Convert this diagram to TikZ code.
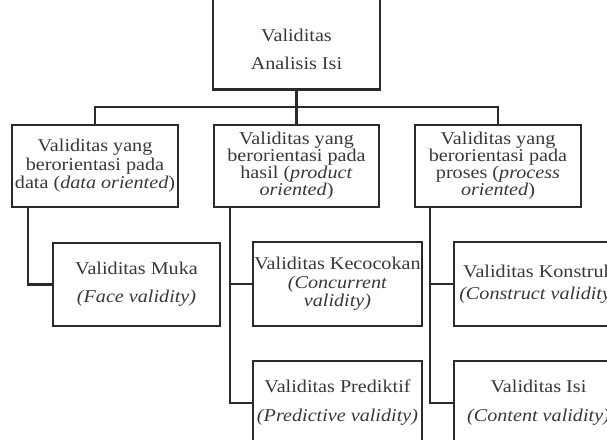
\documentclass[tikz,border=0pt]{standalone}
\usepackage{fontspec}
\setmainfont{Liberation Serif}[FakeStretch=1.12]
\definecolor{boxcol}{HTML}{2A2A2A}
\definecolor{txtcol}{HTML}{383838}
\begin{document}
\begin{tikzpicture}[x=1pt,y=-1pt,
  box/.style={draw=boxcol, line width=2.9pt, inner sep=0pt, align=center, text=txtcol,
    font=\fontsize{18}{18.5}\selectfont},
  txt/.style={inner sep=0pt, align=center, text=txtcol},
  conn/.style={draw=boxcol, line width=2.1pt}]
\useasboundingbox (0,0) rectangle (607,439);
% top
\node[box, minimum width=167pt, minimum height=92pt] (top) at (296.5,43.5) {};
\node[txt, font=\fontsize{18}{28}\selectfont] (toptxt) at (296.5,49) {Validitas\\Analisis Isi};
% level 2
\node[box, minimum width=166pt, minimum height=82pt] (data) at (95,166)
  {Validitas yang\\berorientasi pada\\data (\textit{data oriented})};
\node[box, minimum width=165pt, minimum height=82pt, font=\fontsize{18}{17}\selectfont] (hasil) at (296.5,166)
  {Validitas yang\\berorientasi pada\\hasil (\textit{product}\\\textit{oriented})};
\node[box, minimum width=166pt, minimum height=82pt, font=\fontsize{18}{17}\selectfont] (proses) at (498,166)
  {Validitas yang\\berorientasi pada\\proses (\textit{process}\\\textit{oriented})};
% level 3
\node[box, minimum width=167pt, minimum height=83pt, font=\fontsize{18}{28}\selectfont] (muka) at (136.5,284.5)
  {Validitas Muka\\\textit{(Face validity)}};
\node[box, minimum width=169pt, minimum height=84pt] (kec) at (337.5,284)
  {Validitas Kecocokan\\\textit{(Concurrent}\\\textit{validity)}};
\node[box, minimum width=169pt, minimum height=84pt, font=\fontsize{18}{22}\selectfont] (kons) at (538.5,284)
  {Validitas Konstruk\\\textit{(Construct validity)}};
\node[box, minimum width=169pt, minimum height=84pt, font=\fontsize{18}{29}\selectfont] (pred) at (337.5,403)
  {Validitas Prediktif\\\textit{(Predictive validity)}};
\node[box, minimum width=169pt, minimum height=84pt, font=\fontsize{18}{29}\selectfont] (isi) at (538.5,403)
  {Validitas Isi\\\textit{(Content validity)}};
% connectors
\coordinate (bus) at (296.5,107);
\draw[conn] (top.south) -- (bus);
\draw[conn] (data.north) |- (bus) -| (proses.north);
\draw[conn] (bus) -- (hasil.north);
\draw[conn] ([xshift=17pt]data.south west) |- (muka.west);
\draw[conn] ([xshift=17pt]hasil.south west) |- (kec.west);
\draw[conn] ([xshift=17pt]hasil.south west) |- (pred.west);
\draw[conn] ([xshift=16pt]proses.south west) |- (kons.west);
\draw[conn] ([xshift=16pt]proses.south west) |- (isi.west);
\end{tikzpicture}
\end{document}
